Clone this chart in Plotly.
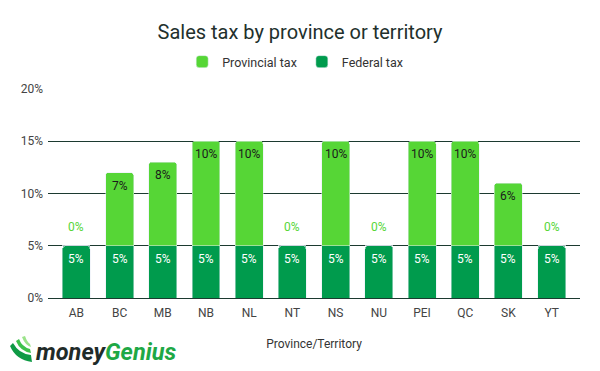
import plotly.graph_objects as go

categories = ["AB", "BC", "MB", "NB", "NL", "NT", "NS", "NU", "PEI", "QC", "SK", "YT"]
federal_tax = [5, 5, 5, 5, 5, 5, 5, 5, 5, 5, 5, 5]
provincial_tax = [0, 7, 8, 10, 10, 0, 10, 0, 10, 10, 6, 0]
y_ticks = [0, 5, 10, 15, 20]

LIGHT = "#56d636"
DARK = "#009b4d"
GRID = "#1c3a30"
W, H = 600, 371
L, R, T, B = 48, 20, 89, 73


def px(x):
    return (x - L) / (W - L - R)


def py(y):
    return (H - B - y) / (H - T - B)


fig = go.Figure()
fig.add_trace(go.Bar(x=categories, y=federal_tax, name="Federal tax",
                     marker_color=DARK, hoverinfo="skip"))
fig.add_trace(go.Bar(x=categories, y=provincial_tax, name="Provincial tax",
                     marker_color=LIGHT, hoverinfo="skip"))

# value labels positioned through the data axes
for c, f, p in zip(categories, federal_tax, provincial_tax):
    fig.add_annotation(x=c, y=f, text=f"{f}%", showarrow=False, yshift=-13,
                       font=dict(color="white", size=12, family="Roboto"))
    fig.add_annotation(x=c, y=f + p, text=f"{p}%", showarrow=False,
                       yshift=19 if p == 0 else -13,
                       font=dict(color=LIGHT if p == 0 else "#1b1b1b", size=12,
                                 family="Roboto"))

fig.update_layout(
    width=W, height=H,
    margin=dict(l=L, r=R, t=T, b=B, autoexpand=False),
    barmode="stack", bargap=0.352, barcornerradius=3,
    plot_bgcolor="white", paper_bgcolor="white",
    font=dict(family="Roboto", color="#333333", size=12),
    title=dict(text="Sales tax by province or territory", x=0.5, xref="container",
               xanchor="center", y=1 - 32 / H, yanchor="middle",
               font=dict(size=20, color="#22302c", family="Roboto")),
    legend=dict(orientation="h", x=0.492, xref="container", xanchor="center",
                y=1 - 62 / H, yref="container", yanchor="middle",
                traceorder="reversed", font=dict(size=12.5, color="#333333"),
                itemwidth=30),
    showlegend=True,
    xaxis=dict(range=[-0.657, 11.657], showgrid=False, zeroline=False,
               showline=True, linecolor=GRID, linewidth=1.3, layer="above traces",
               ticks="", tickfont=dict(size=12, color="#444444"),
               ticklabelstandoff=3,
               title=dict(text="Province/Territory", standoff=21,
                          font=dict(size=12, color="#333333"))),
    yaxis=dict(range=[0, 20], tickvals=y_ticks,
               ticktext=[f"{v}%" for v in y_ticks], showgrid=True,
               gridcolor=GRID, gridwidth=1.3, zeroline=False,
               tickfont=dict(size=12, color="#444444"), ticklen=0,
               ticklabelstandoff=4),
)

# moneyGenius logo
fig.add_annotation(xref="paper", yref="paper", x=px(34), y=py(352),
                   xanchor="left", yanchor="middle", showarrow=False,
                   text="<b><i><span style='color:#1f2b29'>money</span>"
                        "<span style='color:#1ea845'>Genius</span></i></b>",
                   font=dict(size=23.5, family="Roboto"))


def path(points):
    s = ""
    for cmd, pts in points:
        s += cmd + " " + " ".join(f"{px(a):.4f},{py(b):.4f}" for a, b in pts) + " "
    return s + "Z"


leaf_shapes = [
    ([("M", [(10, 346)]), ("Q", [(16, 360), (32, 362)]), ("L", [(31, 355)]),
      ("Q", [(19, 354), (13, 343)])], "#0f9a45"),
    ([("M", [(16, 341)]), ("Q", [(20, 351), (31, 353)]), ("L", [(30, 349)]),
      ("Q", [(22, 347), (19, 339)])], "#3cc14a"),
    ([("M", [(22, 337)]), ("Q", [(25, 345), (31, 347)]), ("L", [(30, 344)]),
      ("Q", [(27, 342), (25, 336)])], "#9be38a"),
]
for pts, col in leaf_shapes:
    fig.add_shape(type="path", xref="paper", yref="paper", path=path(pts),
                  fillcolor=col, line=dict(width=0), layer="above")

fig.write_html("out.html", config={"displayModeBar": False},
               post_script="document.body.style.margin='0';")
